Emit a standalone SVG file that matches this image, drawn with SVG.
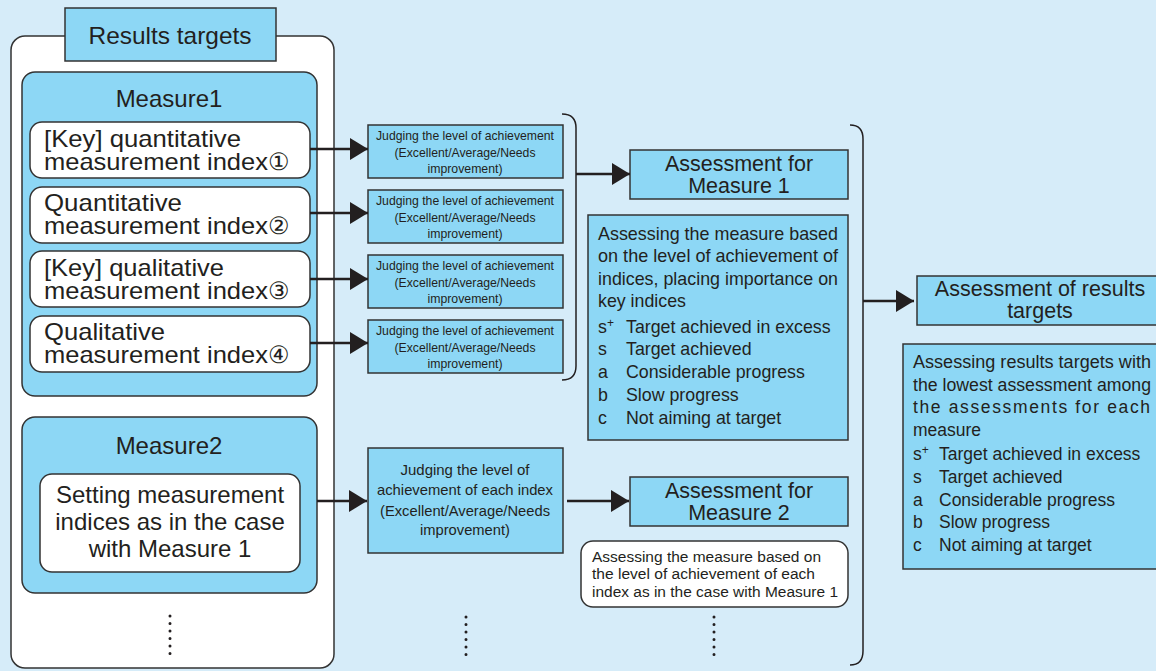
<svg xmlns="http://www.w3.org/2000/svg" width="1156" height="671" viewBox="0 0 1156 671">
<defs>
<style>
.bg{fill:#d6ecf9}
.blue{fill:#8dd7f5;stroke:#333;stroke-width:1.5}
.white{fill:#fff;stroke:#333;stroke-width:1.5}
.t{font-family:"Liberation Sans",Arial,sans-serif;fill:#231f20}
.c{text-anchor:middle}
.big{font-size:24px}
.head{font-size:21.5px}
.d1{font-size:17.8px}
.d2{font-size:17.5px}
.conn{stroke:#231f20;stroke-width:2.5;fill:none}
.brace{stroke:#231f20;stroke-width:1.5;fill:none}
.dots{stroke:#231f20;stroke-width:3;stroke-linecap:round;stroke-dasharray:0 7.5;fill:none}
</style>
<marker id="ah" viewBox="0 0 18 22" refX="18" refY="11" markerWidth="18" markerHeight="22" markerUnits="userSpaceOnUse" orient="auto">
<path d="M0,0 L18,11 L0,22 z" fill="#231f20"/>
</marker>
</defs>
<rect class="bg" x="0" y="0" width="1156" height="671"/>

<g id="results-targets">
<rect class="white" x="11" y="36" width="323" height="632" rx="14"/>
<rect class="blue" x="65" y="8" width="211" height="53"/>
<text class="t c big" x="170" y="44" textLength="163" lengthAdjust="spacingAndGlyphs">Results targets</text>
<path class="dots" d="M170,616 V655"/>
</g>

<g id="measure1">
<rect class="blue" x="22" y="72" width="295" height="324" rx="13"/>
<text class="t c big" x="169" y="107">Measure1</text>
</g>
<g id="index1">
<rect class="white" x="30" y="122" width="280" height="56" rx="12"/>
<text class="t big" x="44" y="147" textLength="197" lengthAdjust="spacingAndGlyphs">[Key] quantitative</text>
<text class="t big" x="44" y="170" textLength="224" lengthAdjust="spacingAndGlyphs">measurement index</text>
<text class="t big" x="268" y="170">①</text>
</g>
<g id="index2">
<rect class="white" x="30" y="187" width="280" height="56" rx="12"/>
<text class="t big" x="44" y="211" textLength="138" lengthAdjust="spacingAndGlyphs">Quantitative</text>
<text class="t big" x="44" y="234" textLength="224" lengthAdjust="spacingAndGlyphs">measurement index</text>
<text class="t big" x="268" y="234">②</text>
</g>
<g id="index3">
<rect class="white" x="30" y="251" width="280" height="56" rx="12"/>
<text class="t big" x="44" y="276" textLength="180" lengthAdjust="spacingAndGlyphs">[Key] qualitative</text>
<text class="t big" x="44" y="299" textLength="224" lengthAdjust="spacingAndGlyphs">measurement index</text>
<text class="t big" x="268" y="299">③</text>
</g>
<g id="index4">
<rect class="white" x="30" y="316" width="280" height="56" rx="12"/>
<text class="t big" x="44" y="340" textLength="121" lengthAdjust="spacingAndGlyphs">Qualitative</text>
<text class="t big" x="44" y="363" textLength="224" lengthAdjust="spacingAndGlyphs">measurement index</text>
<text class="t big" x="268" y="363">④</text>
</g>

<g id="measure2">
<rect class="blue" x="22" y="417" width="295" height="176" rx="13"/>
<text class="t c big" x="169" y="454">Measure2</text>
<rect class="white" x="40" y="474" width="260" height="98" rx="12"/>
<text class="t c big" x="170" y="503">Setting measurement</text>
<text class="t c big" x="170" y="530">indices as in the case</text>
<text class="t c big" x="170" y="557">with Measure 1</text>
</g>

<g id="judge1">
<rect class="blue" x="368" y="125" width="195" height="53"/>
<text class="t c" x="465" y="140" font-size="13.5" textLength="178" lengthAdjust="spacingAndGlyphs">Judging the level of achievement</text>
<text class="t c" x="465" y="157" font-size="13.5" textLength="141" lengthAdjust="spacingAndGlyphs">(Excellent/Average/Needs</text>
<text class="t c" x="465" y="173" font-size="13.5" textLength="75" lengthAdjust="spacingAndGlyphs">improvement)</text>
</g>
<g id="judge2">
<rect class="blue" x="368" y="190" width="195" height="53"/>
<text class="t c" x="465" y="205" font-size="13.5" textLength="178" lengthAdjust="spacingAndGlyphs">Judging the level of achievement</text>
<text class="t c" x="465" y="222" font-size="13.5" textLength="141" lengthAdjust="spacingAndGlyphs">(Excellent/Average/Needs</text>
<text class="t c" x="465" y="238" font-size="13.5" textLength="75" lengthAdjust="spacingAndGlyphs">improvement)</text>
</g>
<g id="judge3">
<rect class="blue" x="368" y="255" width="195" height="53"/>
<text class="t c" x="465" y="270" font-size="13.5" textLength="178" lengthAdjust="spacingAndGlyphs">Judging the level of achievement</text>
<text class="t c" x="465" y="287" font-size="13.5" textLength="141" lengthAdjust="spacingAndGlyphs">(Excellent/Average/Needs</text>
<text class="t c" x="465" y="303" font-size="13.5" textLength="75" lengthAdjust="spacingAndGlyphs">improvement)</text>
</g>
<g id="judge4">
<rect class="blue" x="368" y="320" width="195" height="53"/>
<text class="t c" x="465" y="335" font-size="13.5" textLength="178" lengthAdjust="spacingAndGlyphs">Judging the level of achievement</text>
<text class="t c" x="465" y="352" font-size="13.5" textLength="141" lengthAdjust="spacingAndGlyphs">(Excellent/Average/Needs</text>
<text class="t c" x="465" y="368" font-size="13.5" textLength="75" lengthAdjust="spacingAndGlyphs">improvement)</text>
</g>
<g id="judge-m2">
<rect class="blue" x="368" y="448" width="195" height="105"/>
<text class="t c" x="465" y="475" font-size="15" textLength="129" lengthAdjust="spacingAndGlyphs">Judging the level of</text>
<text class="t c" x="465" y="495" font-size="15" textLength="176" lengthAdjust="spacingAndGlyphs">achievement of each index</text>
<text class="t c" x="465" y="516" font-size="15" textLength="170" lengthAdjust="spacingAndGlyphs">(Excellent/Average/Needs</text>
<text class="t c" x="465" y="535" font-size="15" textLength="90" lengthAdjust="spacingAndGlyphs">improvement)</text>
<path class="dots" d="M466,617 V655"/>
</g>

<g id="assess-m1">
<rect class="blue" x="630" y="150" width="218" height="49"/>
<text class="t c head" x="739" y="171">Assessment for</text>
<text class="t c head" x="739" y="193">Measure 1</text>
</g>
<g id="assess-m1-desc">
<rect class="blue" x="588" y="215" width="260" height="225"/>
<text class="t d1" x="598" y="240" textLength="240" lengthAdjust="spacingAndGlyphs">Assessing the measure based</text>
<text class="t d1" x="598" y="262" textLength="240" lengthAdjust="spacingAndGlyphs">on the level of achievement of</text>
<text class="t d1" x="598" y="285" textLength="240" lengthAdjust="spacingAndGlyphs">indices, placing importance on</text>
<text class="t d1" x="598" y="307">key indices</text>
<text class="t d1" x="598" y="333">s<tspan font-size="12" dy="-6">+</tspan></text>
<text class="t d1" x="626" y="333">Target achieved in excess</text>
<text class="t d1" x="598" y="355">s</text>
<text class="t d1" x="626" y="355">Target achieved</text>
<text class="t d1" x="598" y="378">a</text>
<text class="t d1" x="626" y="378">Considerable progress</text>
<text class="t d1" x="598" y="401">b</text>
<text class="t d1" x="626" y="401">Slow progress</text>
<text class="t d1" x="598" y="424">c</text>
<text class="t d1" x="626" y="424">Not aiming at target</text>
</g>

<g id="assess-m2">
<rect class="blue" x="630" y="477" width="218" height="49"/>
<text class="t c head" x="739" y="498">Assessment for</text>
<text class="t c head" x="739" y="520">Measure 2</text>
</g>
<g id="assess-m2-desc">
<rect class="white" x="581" y="541" width="267" height="66" rx="12"/>
<text class="t" x="592" y="562" font-size="15.5" textLength="229" lengthAdjust="spacingAndGlyphs">Assessing the measure based on</text>
<text class="t" x="592" y="579" font-size="15.5" textLength="223" lengthAdjust="spacingAndGlyphs">the level of achievement of each</text>
<text class="t" x="592" y="597" font-size="15.5" textLength="246" lengthAdjust="spacingAndGlyphs">index as in the case with Measure 1</text>
<path class="dots" d="M714,617 V655"/>
</g>

<g id="assess-results">
<rect class="blue" x="917" y="276" width="245" height="49"/>
<text class="t c head" x="1040" y="296">Assessment of results</text>
<text class="t c head" x="1040" y="318">targets</text>
</g>
<g id="assess-results-desc">
<rect class="blue" x="903" y="344" width="260" height="225"/>
<text class="t d2" x="913" y="368" textLength="238" lengthAdjust="spacingAndGlyphs">Assessing results targets with</text>
<text class="t d2" x="913" y="391" textLength="238" lengthAdjust="spacingAndGlyphs">the lowest assessment among</text>
<text class="t d2" x="913" y="413" textLength="237" lengthAdjust="spacing">the assessments for each</text>
<text class="t d2" x="913" y="436">measure</text>
<text class="t d2" x="913" y="460">s<tspan font-size="12" dy="-6">+</tspan></text>
<text class="t d2" x="939" y="460">Target achieved in excess</text>
<text class="t d2" x="913" y="483">s</text>
<text class="t d2" x="939" y="483">Target achieved</text>
<text class="t d2" x="913" y="506">a</text>
<text class="t d2" x="939" y="506">Considerable progress</text>
<text class="t d2" x="913" y="528">b</text>
<text class="t d2" x="939" y="528">Slow progress</text>
<text class="t d2" x="913" y="551">c</text>
<text class="t d2" x="939" y="551">Not aiming at target</text>
</g>

<g id="connectors">
<path class="conn" d="M310,149 H368" marker-end="url(#ah)"/>
<path class="conn" d="M310,213 H368" marker-end="url(#ah)"/>
<path class="conn" d="M310,279 H368" marker-end="url(#ah)"/>
<path class="conn" d="M310,343 H368" marker-end="url(#ah)"/>
<path class="conn" d="M317,501 H367" marker-end="url(#ah)"/>
<path class="conn" d="M567,501 H629" marker-end="url(#ah)"/>
<path class="brace" d="M562,114 Q576,114 576,128 V366 Q576,380 562,380"/>
<path class="conn" d="M576,174 H630" marker-end="url(#ah)"/>
<path class="brace" d="M850,125 Q863,125 863,139 V651 Q863,665 850,665"/>
<path class="conn" d="M863,301 H914" marker-end="url(#ah)"/>
</g>
</svg>
